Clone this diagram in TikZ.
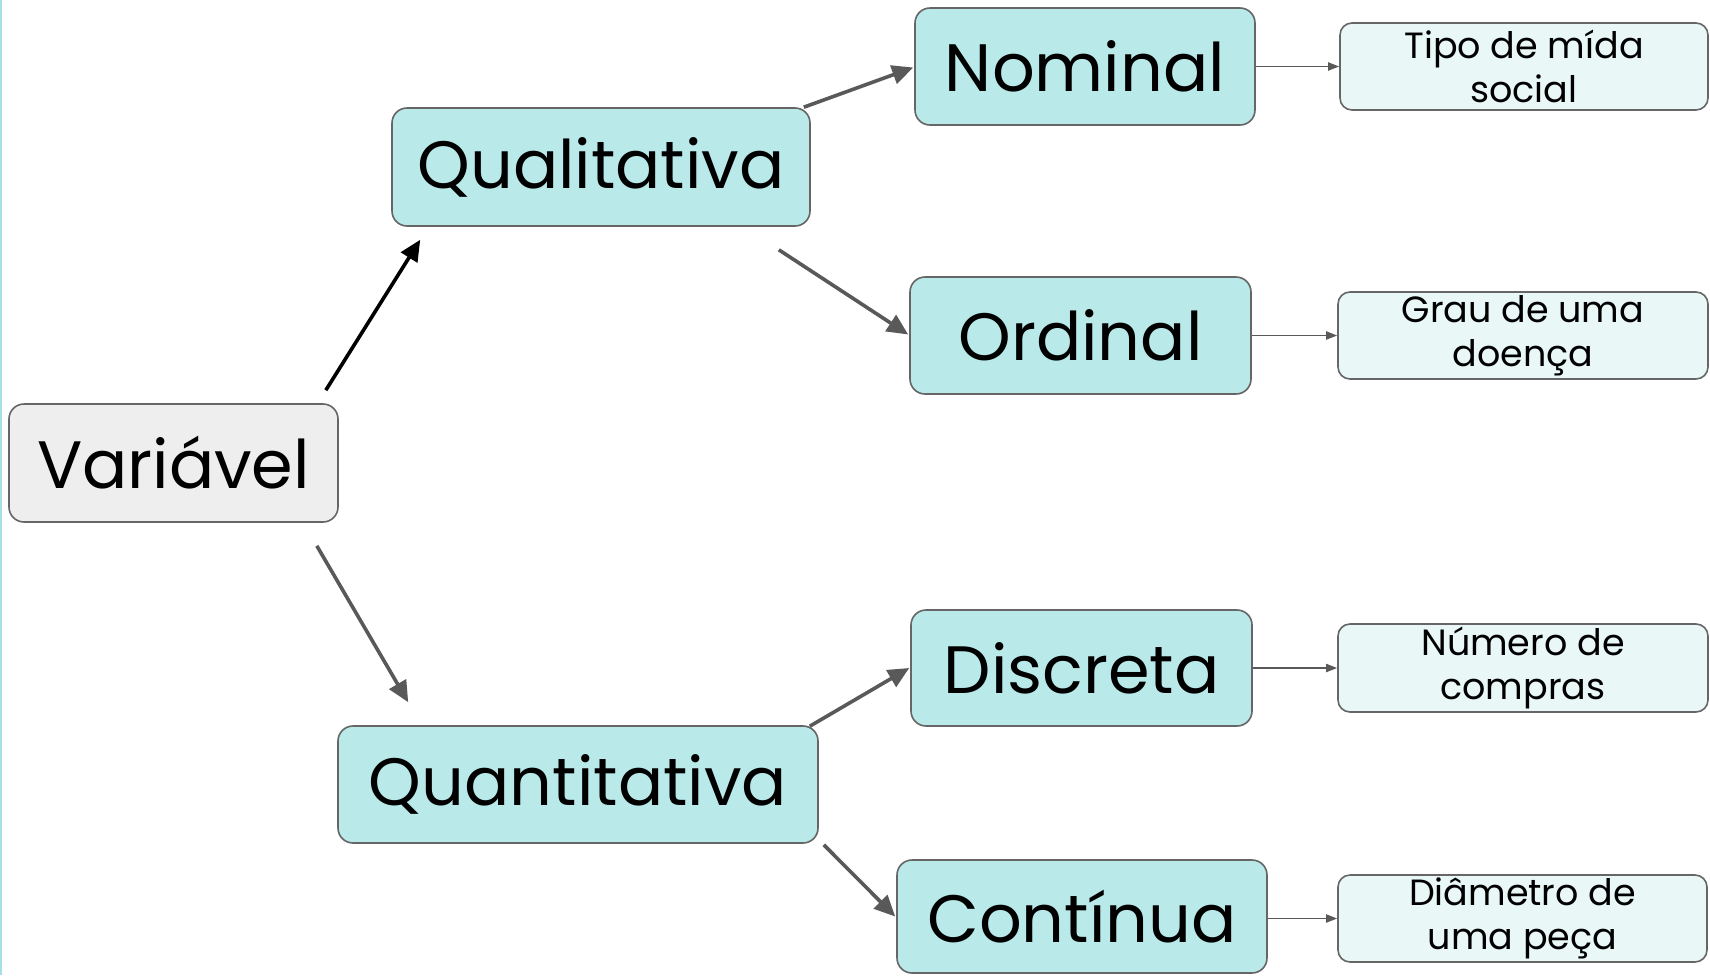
\documentclass[tikz,border=0pt]{standalone}
\usepackage{fontspec}
\setmainfont{Poppins}
\usetikzlibrary{arrows.meta,calc}
\definecolor{boxcyan}{HTML}{B9E9E9}
\definecolor{boxpale}{HTML}{E9F7F7}
\definecolor{boxgray}{HTML}{EEEEEE}
\definecolor{edgegray}{HTML}{666666}
\definecolor{linkgray}{HTML}{595959}
\definecolor{stripe}{HTML}{A6E0E4}
\tikzset{
  bigbox/.style={draw=edgegray, line width=1.6pt, rounded corners=15pt, fill=boxcyan,
    inner sep=0pt, align=center, font=\fontsize{67}{72}\selectfont},
  rootbox/.style={bigbox, fill=boxgray},
  smallbox/.style={draw=edgegray, line width=1.6pt, rounded corners=12pt, fill=boxpale,
    inner sep=0pt, align=center, font=\fontsize{36.5}{44}\selectfont},
  mainlink/.style={line width=3.6pt, color=linkgray, -{Triangle[length=21pt,width=19pt]}},
  leaflink/.style={line width=1.8pt, color=linkgray, -{Triangle[length=11pt,width=8pt]}}
}
\begin{document}
\begin{tikzpicture}[x=1pt,y=-1pt]
\useasboundingbox (0,0) rectangle (1710,975);
\fill[white] (0,0) rectangle (1710,975);
\draw[stripe, line width=2.5pt] (1.2,0) -- (1.2,975);

% root
\node[rootbox, minimum width=329pt, minimum height=118pt] (var) at (173.5,463) {Variável};

% first level
\node[bigbox, minimum width=418pt, minimum height=118pt] (qual) at (601,167) {Qualitativa};
\node[bigbox, minimum width=480pt, minimum height=117pt] (quant) at (578,784.5) {Quantitativa};

% second level
\node[bigbox, minimum width=340pt, minimum height=117pt] (nom) at (1085,66.5) {Nominal};
\node[bigbox, minimum width=341pt, minimum height=117pt] (ord) at (1080.5,335.5) {Ordinal};
\node[bigbox, minimum width=341pt, minimum height=116pt] (disc) at (1081.5,668) {Discreta};
\node[bigbox, minimum width=370pt, minimum height=113pt] (cont) at (1082,916.5) {Contínua};

% examples
\node[smallbox, minimum width=368pt, minimum height=87pt] (ex1) at (1524,66.5) {Tipo de mída\\social};
\node[smallbox, minimum width=370pt, minimum height=87pt] (ex2) at (1523,335.5) {Grau de uma\\doença};
\node[smallbox, minimum width=370pt, minimum height=88pt] (ex3) at (1523,668) {Número de\\compras};
\node[smallbox, minimum width=369pt, minimum height=87pt] (ex4) at (1522.5,918.5) {Diâmetro de\\uma peça};

% connectors
\draw[mainlink, color=black] ($(var.north east)+(-13,-13)$) -- ($(qual.south west)+(29,13)$);
\draw[mainlink] ($(var.south east)+(-22,23)$) -- ($(quant.north west)+(71,-23)$);
\draw[mainlink] ($(qual.north east)+(-7,0)$) -- ($(nom.west)+(-1,1)$);
\draw[mainlink] ($(qual.south east)+(-32,23)$) -- ($(ord.west)+(-1,-1)$);
\draw[mainlink] ($(quant.north east)+(-9,1)$) -- ($(disc.west)+(-1,0)$);
\draw[mainlink] ($(quant.south east)+(5,1)$) -- ($(cont.west)+(-1,0)$);

\draw[leaflink] (nom.east) -- (ex1.west);
\draw[leaflink] (ord.east) -- (ex2.west);
\draw[leaflink] (disc.east) -- (ex3.west);
\draw[leaflink] (ex4.west -| cont.east) -- (ex4.west);
\end{tikzpicture}
\end{document}
